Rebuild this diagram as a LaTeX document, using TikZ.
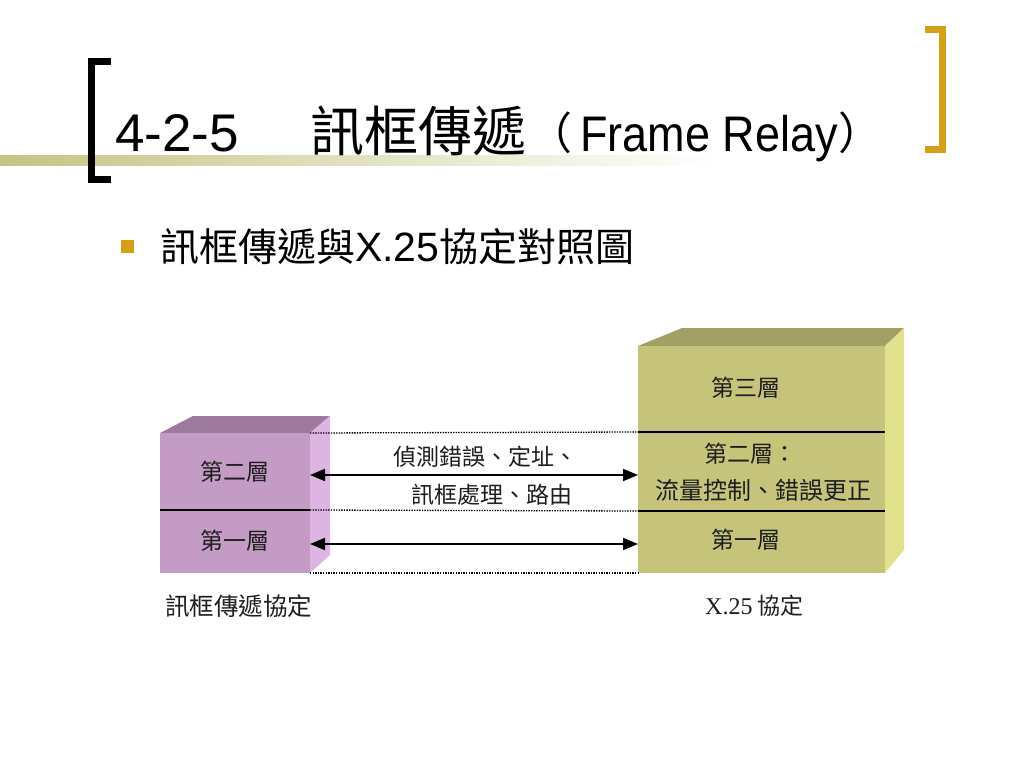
\documentclass[tikz,border=0pt]{standalone}
\usepackage{fontspec}
\setmainfont{Liberation Serif}
\newfontfamily\cjk{Noto Sans CJK TC}
\newfontfamily\arial{Liberation Sans}
\newfontfamily\timesf{Liberation Serif}
\usetikzlibrary{arrows.meta}
\definecolor{gold}{RGB}{212,160,23}
\definecolor{band}{RGB}{196,196,132}
\definecolor{pfront}{RGB}{196,155,196}
\definecolor{ptop}{RGB}{158,122,158}
\definecolor{pside}{RGB}{222,180,226}
\definecolor{ofront}{RGB}{198,195,122}
\definecolor{otop}{RGB}{163,160,102}
\definecolor{oside}{RGB}{226,226,142}
\definecolor{txt}{RGB}{30,30,30}
\tikzset{
  layer/.style={inner sep=0pt, outer sep=0pt, draw=none},
  lbl/.style={inner sep=0pt, text=txt, font=\cjk\fontsize{23}{23}\selectfont},
  divider/.style={line width=1.6pt, black},
  dots/.style={line width=1.3pt, black, dash pattern=on 1.4pt off 1.2pt},
  twoway/.style={line width=1.8pt, black, {Triangle[length=15pt,width=12pt]}-{Triangle[length=15pt,width=12pt]}},
}
\begin{document}
\begin{tikzpicture}[x=1pt,y=-1pt]
\useasboundingbox (0,0) rectangle (1024,768);
\fill[white] (0,0) rectangle (1024,768);

% ---- title decoration
\shade[left color=band, right color=white] (0,155) rectangle (720,165);
\fill[black] (88,58) rectangle (95,183);
\fill[black] (88,58) rectangle (111,65);
\fill[black] (88,176) rectangle (111,183);
\fill[gold] (939,26) rectangle (946,153);
\fill[gold] (925,26) rectangle (946,33);
\fill[gold] (925,146) rectangle (946,153);

% ---- title
\node[anchor=base west, inner sep=0pt] (t1) at (115,151) {\arial\fontsize{53}{53}\selectfont 4-2-5};
\node[anchor=base west, inner sep=0pt] (t2) at (310,151) {\cjk\fontsize{54}{54}\selectfont 訊框傳遞};
\node[anchor=base west, inner sep=0pt] (t3) at (528,149) {\cjk\fontsize{44}{44}\selectfont （};
\node[anchor=base west, inner sep=0pt, xscale=0.9] (t4) at (580,151) {\arial\fontsize{50}{50}\selectfont Frame Relay};
\node[anchor=base west, inner sep=0pt] (t5) at (838,149) {\cjk\fontsize{44}{44}\selectfont ）};

% ---- bullet
\fill[gold] (121,240) rectangle (134,253);
\node[anchor=base west, inner sep=0pt] (b1) at (160,261)
  {\cjk\fontsize{39}{39}\selectfont 訊框傳遞與{\arial\fontsize{41}{41}\selectfont X.25}協定對照圖};

% ---- left stack (Frame Relay)
\fill[ptop] (160,433) -- (193,416) -- (330,416) -- (310,433) -- cycle;
\fill[pside] (310,433) -- (330,416) -- (330,555) -- (310,573) -- cycle;
\node[layer, fill=pfront, minimum width=150pt, minimum height=77pt] (L2) at (235,471.5) {};
\node[layer, fill=pfront, minimum width=150pt, minimum height=63pt] (L1) at (235,541.5) {};
\draw[divider] (L2.south west) -- (L2.south east);
\node[lbl] (L2t) at (235,472) {第二層};
\node[lbl] (L1t) at (235,541) {第一層};

% ---- right stack (X.25)
\fill[otop] (638,346) -- (682,328) -- (904,328) -- (885,346) -- cycle;
\fill[oside] (885,346) -- (904,328) -- (904,550) -- (885,573) -- cycle;
\node[layer, fill=ofront, minimum width=247pt, minimum height=86pt] (R3) at (761.5,389) {};
\node[layer, fill=ofront, minimum width=247pt, minimum height=79pt] (R2) at (761.5,471.5) {};
\node[layer, fill=ofront, minimum width=247pt, minimum height=62pt] (R1) at (761.5,542) {};
\draw[divider] (R2.north west) -- (R2.north east);
\draw[divider] (R1.north west) -- (R1.north east);
\node[lbl] (R3t) at (746,388) {第三層};
\node[lbl] (R2a) at (750,454) {第二層：};
\node[lbl, font=\cjk\fontsize{24}{24}\selectfont] (R2b) at (763,490) {流量控制、錯誤更正};
\node[lbl] (R1t) at (746,540) {第一層};

% ---- dotted guides
\draw[dots] (L2.north east) -- (R2.north west);
\draw[dots] (L2.south east) -- (R1.north west);
\draw[dots] (L1.south east) -- (R1.south west);

% ---- arrows
\draw[twoway] ([yshift=-3.5pt]L2.east) -- ([yshift=-3.5pt]R2.west);
\draw[twoway] ([yshift=-2.5pt]L1.east) -- ([yshift=-2pt]R1.west);
\node[lbl] (m1) at (485,457) {偵測錯誤、定址、};
\node[lbl] (m2) at (492,495) {訊框處理、路由};

% ---- captions
\node[lbl, font=\cjk\fontsize{24.5}{24.5}\selectfont, anchor=west] (c1) at (165,606) {訊框傳遞協定};
\node[lbl, anchor=west] (c2) at (705,606) {{\timesf\fontsize{24}{24}\selectfont X.25} {\cjk\fontsize{23}{23}\selectfont 協定}};
\end{tikzpicture}
\end{document}
